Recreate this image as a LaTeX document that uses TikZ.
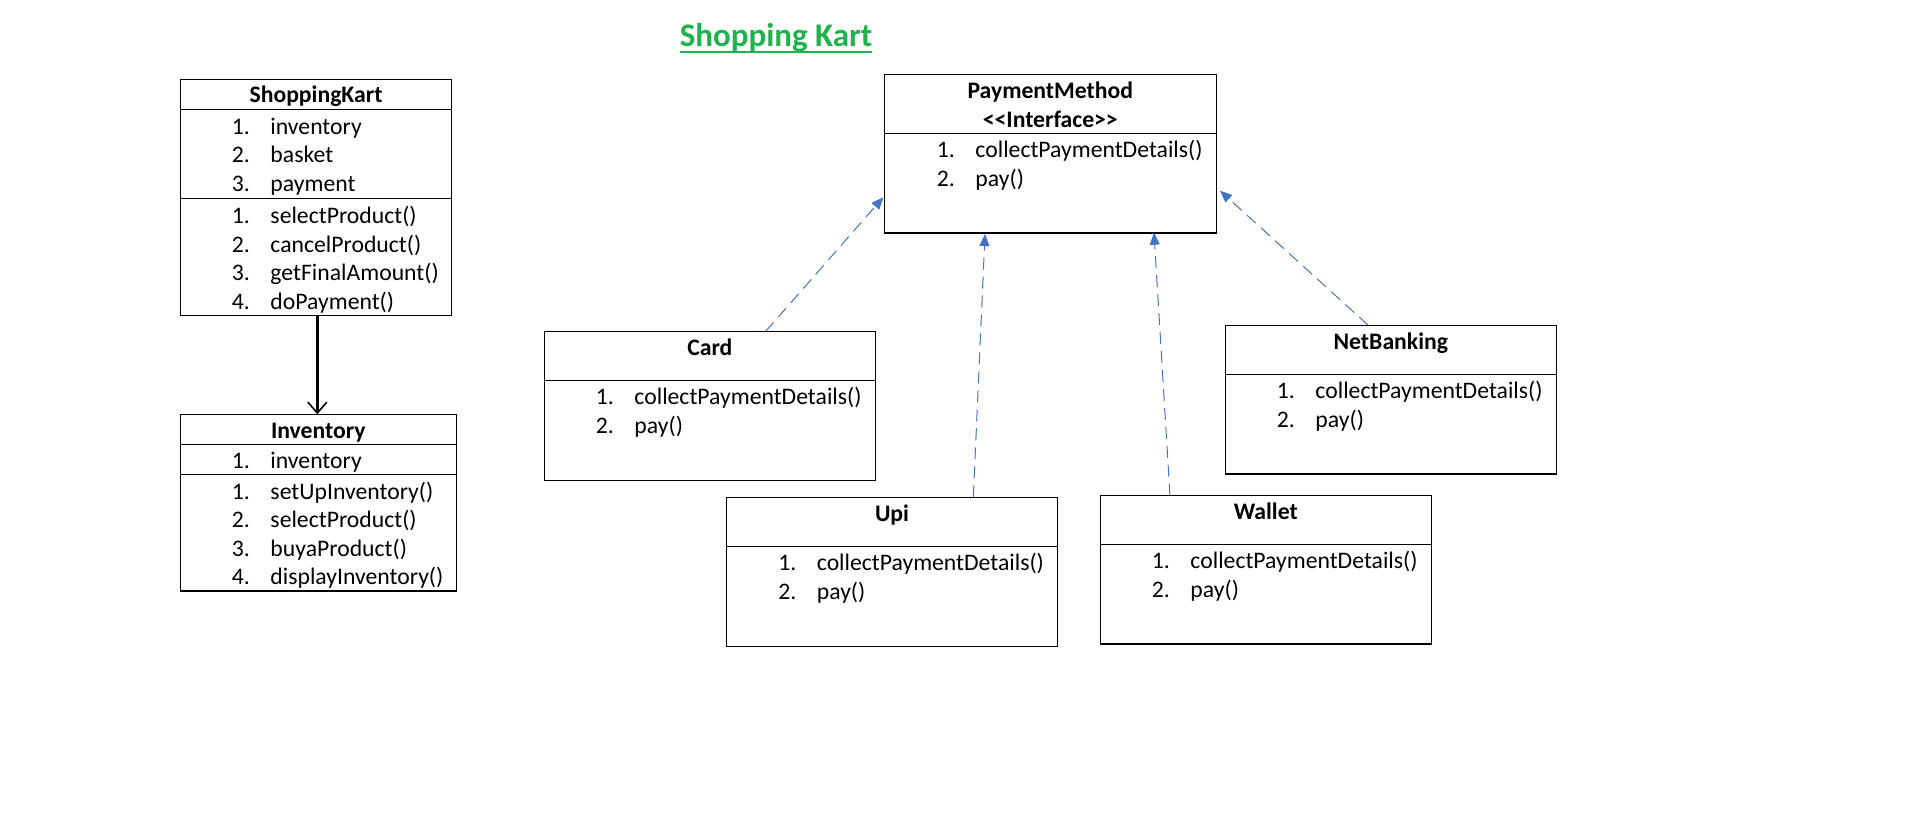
\documentclass[tikz,border=0pt]{standalone}
\usepackage{fontspec}
\setmainfont{Carlito}
\usetikzlibrary{arrows.meta,calc}
\definecolor{kblue}{HTML}{4472C4}
\definecolor{kgreen}{RGB}{32,178,76}
\newcommand{\itm}[2]{\makebox[38.6pt][l]{#1}#2}
\begin{document}
\begin{tikzpicture}[x=1pt,y=-1pt,
  umlbox/.style={draw=black, line width=1.2pt, rectangle, inner sep=0pt, outer sep=0pt, anchor=north west},
  sepline/.style={draw=black, line width=1.2pt},
  lbl/.style={anchor=base west, inner sep=0pt, font=\fontsize{23.7}{28.6}\selectfont},
  ttl/.style={anchor=base, inner sep=0pt, font=\fontsize{23.7}{28.6}\selectfont\bfseries},
  realize/.style={draw=kblue, line width=1pt, dash pattern=on 12pt off 7pt, -{Triangle[length=12pt,width=10pt]}, fill=none},
  assoc/.style={draw=black, line width=2.5pt, -{Straight Barb[length=11pt,width=19pt,line width=1.6pt]}}
]
\useasboundingbox (0,0) rectangle (1914,825);

% title
\node[anchor=base, inner sep=0pt, text=kgreen, font=\fontsize{33}{40}\selectfont\bfseries] (title) at (776,46.7) {Shopping Kart};
\draw[kgreen, line width=2.2pt] ($(title.base west)+(0,5.6)$) -- ($(title.base east)+(0,5.6)$);

% ShoppingKart
\node[umlbox, minimum width=271.4pt, minimum height=236pt] (sk) at (180.3,79.3) {};
\draw[sepline] ($(sk.north west)+(0,30)$) -- ($(sk.north east)+(0,30)$);
\draw[sepline] ($(sk.north west)+(0,119)$) -- ($(sk.north east)+(0,119)$);
\node[ttl] (skT) at (316,102.7) {ShoppingKart};
\node[lbl] (skA1) at (231.7,134) {\itm{1.}{inventory}};
\node[lbl] (skA2) at (231.7,162.6) {\itm{2.}{basket}};
\node[lbl] (skA3) at (231.7,191.2) {\itm{3.}{payment}};
\node[lbl] (skM1) at (231.7,223.3) {\itm{1.}{selectProduct()}};
\node[lbl] (skM2) at (231.7,252) {\itm{2.}{cancelProduct()}};
\node[lbl] (skM3) at (231.7,280.5) {\itm{3.}{getFinalAmount()}};
\node[lbl] (skM4) at (231.7,309) {\itm{4.}{doPayment()}};

% Inventory
\node[umlbox, minimum width=276pt, minimum height=176.7pt] (inv) at (180.3,414.3) {};
\draw[sepline] ($(inv.north west)+(0,30)$) -- ($(inv.north east)+(0,30)$);
\draw[sepline] ($(inv.north west)+(0,60)$) -- ($(inv.north east)+(0,60)$);
\node[ttl] (invT) at (318.3,438.3) {Inventory};
\node[lbl] (invA1) at (231.7,468.3) {\itm{1.}{inventory}};
\node[lbl] (invM1) at (231.7,499) {\itm{1.}{setUpInventory()}};
\node[lbl] (invM2) at (231.7,527.6) {\itm{2.}{selectProduct()}};
\node[lbl] (invM3) at (231.7,556.2) {\itm{3.}{buyaProduct()}};
\node[lbl] (invM4) at (231.7,584.8) {\itm{4.}{displayInventory()}};

% PaymentMethod
\node[umlbox, minimum width=332pt, minimum height=158.7pt] (pm) at (884.3,74.3) {};
\draw[sepline] ($(pm.north west)+(0,59)$) -- ($(pm.north east)+(0,59)$);
\node[ttl] (pmT1) at (1050.3,98.3) {PaymentMethod};
\node[ttl] (pmT2) at (1050.3,127.3) {<{}<Interface>{}>};
\node[lbl] (pmM1) at (936.7,157.3) {\itm{1.}{collectPaymentDetails()}};
\node[lbl] (pmM2) at (936.7,186.3) {\itm{2.}{pay()}};

% Card
\node[umlbox, minimum width=331pt, minimum height=149pt] (card) at (544.3,331.3) {};
\draw[sepline] ($(card.north west)+(0,49)$) -- ($(card.north east)+(0,49)$);
\node[ttl] (cardT) at (709.8,355.3) {Card};
\node[lbl] (cardM1) at (595.7,404.3) {\itm{1.}{collectPaymentDetails()}};
\node[lbl] (cardM2) at (595.7,433.3) {\itm{2.}{pay()}};

% Upi
\node[umlbox, minimum width=330.6pt, minimum height=149pt] (upi) at (726.7,497.3) {};
\draw[sepline] ($(upi.north west)+(0,49)$) -- ($(upi.north east)+(0,49)$);
\node[ttl] (upiT) at (892,521.3) {Upi};
\node[lbl] (upiM1) at (778.1,570.3) {\itm{1.}{collectPaymentDetails()}};
\node[lbl] (upiM2) at (778.1,599.3) {\itm{2.}{pay()}};

% Wallet
\node[umlbox, minimum width=331pt, minimum height=148.3pt] (wal) at (1100.3,495.7) {};
\draw[sepline] ($(wal.north west)+(0,48.6)$) -- ($(wal.north east)+(0,48.6)$);
\node[ttl] (walT) at (1265.8,519.7) {Wallet};
\node[lbl] (walM1) at (1151.7,568.7) {\itm{1.}{collectPaymentDetails()}};
\node[lbl] (walM2) at (1151.7,597.7) {\itm{2.}{pay()}};

% NetBanking
\node[umlbox, minimum width=331pt, minimum height=148.7pt] (nb) at (1225.3,325.3) {};
\draw[sepline] ($(nb.north west)+(0,49)$) -- ($(nb.north east)+(0,49)$);
\node[ttl] (nbT) at (1390.8,349.3) {NetBanking};
\node[lbl] (nbM1) at (1276.7,398.3) {\itm{1.}{collectPaymentDetails()}};
\node[lbl] (nbM2) at (1276.7,427.3) {\itm{2.}{pay()}};

% connectors
\draw[assoc] ($(sk.south west)+(137,0)$) -- ($(inv.north west)+(137,0)$);
\draw[realize] ($(card.north west)+(221.4,0)$) -- ($(pm.north west)+(-1,123)$);
\draw[realize] ($(upi.north west)+(246.6,0)$) -- ($(pm.north west)+(100.7,159.7)$);
\draw[realize] ($(wal.north west)+(69.7,0)$) -- ($(pm.north west)+(269.7,158.4)$);
\draw[realize] ($(nb.north west)+(143,0)$) -- ($(pm.north west)+(335.7,116.4)$);
\end{tikzpicture}
\end{document}
